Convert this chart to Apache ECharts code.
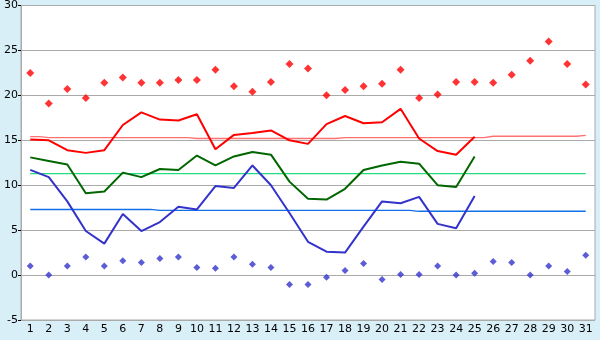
<!DOCTYPE html>
<html>
<head>
<meta charset="utf-8">
<script src="https://cdn.jsdelivr.net/npm/echarts@6/dist/echarts.min.js"></script>
<style>
  html, body { margin: 0; padding: 0; background: #d9eff7; }
  #chart { width: 600px; height: 340px; }
</style>
</head>
<body>
<div id="chart"></div>
<script>
// 日期
const days = ['1','2','3','4','5','6','7','8','9','10','11','12','13','14','15','16','17','18','19','20','21','22','23','24','25','26','27','28','29','30','31'];

// 最高气温 / 平均 / 最低 (1-25日)
const tMax = [15.1, 15.0, 13.9, 13.6, 13.9, 16.7, 18.1, 17.3, 17.2, 17.9, 14.0, 15.6, 15.8, 16.1, 15.0, 14.6, 16.8, 17.7, 16.9, 17.0, 18.5, 15.2, 13.8, 13.4, 15.4];
const tMean = [13.1, 12.7, 12.3, 9.1, 9.3, 11.4, 10.9, 11.8, 11.7, 13.3, 12.2, 13.2, 13.7, 13.4, 10.4, 8.5, 8.4, 9.6, 11.7, 12.2, 12.6, 12.4, 10.0, 9.8, 13.2];
const tMin = [11.7, 10.9, 8.2, 4.9, 3.5, 6.8, 4.9, 5.9, 7.6, 7.3, 9.9, 9.7, 12.2, 10.0, 6.9, 3.7, 2.6, 2.5, 5.4, 8.2, 8.0, 8.7, 5.7, 5.2, 8.8];

// 极值
const recMax = [22.5, 19.1, 20.7, 19.7, 21.4, 22.0, 21.4, 21.4, 21.7, 21.7, 22.85, 21.0, 20.4, 21.5, 23.5, 23.0, 20.0, 20.6, 21.0, 21.3, 22.85, 19.7, 20.1, 21.5, 21.5, 21.4, 22.3, 23.85, 26.0, 23.5, 21.2];
const recMin = [1.0, 0.0, 1.0, 2.0, 1.0, 1.6, 1.4, 1.85, 2.0, 0.85, 0.75, 2.0, 1.2, 0.85, -1.05, -1.05, -0.25, 0.5, 1.3, -0.5, 0.05, 0.05, 1.0, 0.0, 0.2, 1.5, 1.4, 0.0, 1.0, 0.4, 2.2];

// 常年值
const normMax = [15.4, 15.3, 15.3, 15.3, 15.3, 15.3, 15.3, 15.3, 15.3, 15.2, 15.2, 15.2, 15.2, 15.2, 15.2, 15.2, 15.2, 15.3, 15.3, 15.3, 15.3, 15.3, 15.3, 15.3, 15.3, 15.45, 15.45, 15.45, 15.45, 15.45, 15.55];
const normMean = [11.3, 11.3, 11.3, 11.3, 11.3, 11.3, 11.3, 11.3, 11.3, 11.3, 11.3, 11.3, 11.3, 11.3, 11.3, 11.3, 11.3, 11.3, 11.3, 11.3, 11.3, 11.3, 11.3, 11.3, 11.3, 11.3, 11.3, 11.3, 11.3, 11.3, 11.3];
const normMin = [7.3, 7.3, 7.3, 7.3, 7.3, 7.3, 7.3, 7.2, 7.2, 7.2, 7.2, 7.2, 7.2, 7.2, 7.2, 7.2, 7.2, 7.2, 7.2, 7.2, 7.2, 7.1, 7.1, 7.1, 7.1, 7.1, 7.1, 7.1, 7.1, 7.1, 7.1];

const myChart = echarts.init(document.getElementById('chart'));

function thinLine(data, color) {
  return {
    type: 'line', data: data, step: 'middle', symbol: 'none', silent: true,
    lineStyle: { color: color, width: 1.3 }, z: 2
  };
}
function mainLine(data, color) {
  return {
    type: 'line', data: data, symbol: 'none', silent: true,
    lineStyle: { color: color, width: 2 }, z: 3
  };
}
function dots(data, color, size) {
  return {
    type: 'scatter', data: data, symbol: 'diamond', symbolSize: size,
    itemStyle: { color: color }, z: 4
  };
}

myChart.setOption({
  animation: false,
  backgroundColor: '#d9eff7',
  grid: {
    left: 21, right: 5, top: 5, bottom: 20,
    show: true, backgroundColor: '#ffffff', borderColor: '#aaaaaa', borderWidth: 1
  },
  xAxis: {
    type: 'category',
    data: days,
    boundaryGap: true,
    axisLine: { lineStyle: { color: '#aaaaaa' } },
    axisTick: { alignWithLabel: true, length: 4, lineStyle: { color: '#000' } },
    axisLabel: { color: '#000', fontSize: 11, fontFamily: 'DejaVu Sans', margin: 4 },
    splitLine: { show: false }
  },
  yAxis: {
    type: 'value',
    min: -5, max: 30, interval: 5,
    axisLine: { show: true, lineStyle: { color: '#aaaaaa' } },
    axisTick: { show: true, length: 3, lineStyle: { color: '#000' } },
    axisLabel: { color: '#000', fontSize: 11, fontFamily: 'DejaVu Sans', margin: 3 },
    splitLine: { lineStyle: { color: '#aaaaaa' } }
  },
  series: [
    thinLine(normMax, '#ff7070'),
    thinLine(normMean, '#22dd80'),
    thinLine(normMin, '#1070e8'),
    mainLine(tMax, '#ff0000'),
    mainLine(tMean, '#006600'),
    mainLine(tMin, '#3333cc'),
    dots(recMax, '#ff0000', 8),
    dots(recMin, '#3333cc', 7)
  ]
});
</script>
</body>
</html>
